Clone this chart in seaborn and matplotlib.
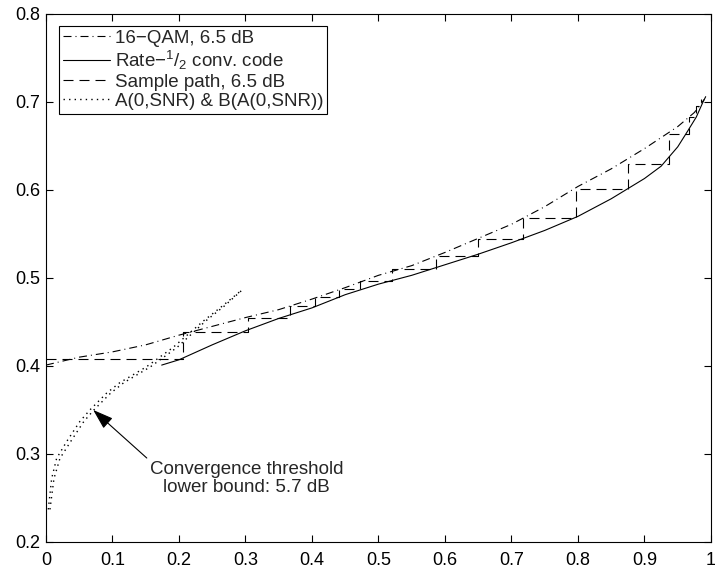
import numpy as np
import pandas as pd
import matplotlib
matplotlib.use('Agg')
import matplotlib.pyplot as plt
import seaborn as sns

# ========================
# DATA
# ========================
# 16-QAM demapper curve, 6.5 dB (dash-dot)
qam_x = [0.0, 0.05, 0.1, 0.15, 0.2, 0.25, 0.3, 0.35, 0.4, 0.45, 0.5, 0.55,
         0.6, 0.65, 0.7, 0.75, 0.8, 0.85, 0.9, 0.95, 0.975, 0.99]
qam_y = [0.401, 0.410, 0.416, 0.424, 0.435, 0.445, 0.455, 0.464, 0.476, 0.489,
         0.503, 0.514, 0.529, 0.545, 0.561, 0.581, 0.604, 0.624, 0.647, 0.672,
         0.688, 0.703]

# rate-1/2 convolutional code curve (solid)
conv_x = [0.174, 0.2, 0.25, 0.3, 0.35, 0.4, 0.45, 0.5, 0.55, 0.6, 0.65, 0.7,
          0.75, 0.8, 0.85, 0.9, 0.925, 0.95, 0.965, 0.978, 0.988, 0.992]
conv_y = [0.401, 0.407, 0.424, 0.440, 0.454, 0.466, 0.481, 0.493, 0.503, 0.515,
          0.527, 0.540, 0.554, 0.570, 0.590, 0.613, 0.627, 0.649, 0.667, 0.683,
          0.700, 0.706]

# sample decoding path, 6.5 dB (dashed staircase)
path_x = [0.0, 0.2065, 0.2065, 0.304, 0.304, 0.367, 0.367, 0.405, 0.405, 0.44,
          0.44, 0.472, 0.472, 0.52, 0.52, 0.586, 0.586, 0.650, 0.650, 0.718,
          0.718, 0.7965, 0.7965, 0.875, 0.875, 0.937, 0.937, 0.9675, 0.9675,
          0.978, 0.978, 0.985, 0.985]
path_y = [0.408, 0.408, 0.439, 0.439, 0.455, 0.455, 0.468, 0.468, 0.478, 0.478,
          0.487, 0.487, 0.4966, 0.4966, 0.5105, 0.5105, 0.525, 0.525, 0.544,
          0.544, 0.568, 0.568, 0.601, 0.601, 0.630, 0.630, 0.664, 0.664, 0.683,
          0.683, 0.695, 0.695, 0.703]

# A(0,SNR) and B(A(0,SNR)) (dotted, two nearly overlapping curves)
a_x = [0.0035, 0.0085, 0.016, 0.031, 0.051, 0.066, 0.091, 0.111, 0.151,
       0.191, 0.2365, 0.265, 0.294]
a_y = [0.237, 0.272, 0.295, 0.314, 0.337, 0.350, 0.369, 0.381, 0.399,
       0.421, 0.451, 0.468, 0.486]
b_x = [0.006, 0.012, 0.021, 0.037, 0.057, 0.072, 0.097, 0.117, 0.157,
       0.197, 0.240, 0.268, 0.296]
b_y = [0.237, 0.272, 0.295, 0.314, 0.337, 0.350, 0.369, 0.381, 0.399,
       0.421, 0.451, 0.468, 0.487]

x_ticks = [0, 0.1, 0.2, 0.3, 0.4, 0.5, 0.6, 0.7, 0.8, 0.9, 1]
x_tick_labels = ['0', '0.1', '0.2', '0.3', '0.4', '0.5', '0.6', '0.7', '0.8', '0.9', '1']
y_ticks = [0.2, 0.3, 0.4, 0.5, 0.6, 0.7, 0.8]
y_tick_labels = ['0.2', '0.3', '0.4', '0.5', '0.6', '0.7', '0.8']

legend_labels = ['16\u2212QAM, 6.5 dB',
                 'Rate\u2212$^{1}$/$_{2}$ conv. code',
                 'Sample path, 6.5 dB',
                 'A(0,SNR) & B(A(0,SNR))']

# ========================
# STYLE
# ========================
sns.set_style('ticks')
plt.rcParams['font.family'] = ['Liberation Sans', 'DejaVu Sans']
plt.rcParams['mathtext.fontset'] = 'custom'
plt.rcParams['mathtext.rm'] = 'Liberation Sans'
plt.rcParams['mathtext.it'] = 'Liberation Sans'
FS = 13
FS_TXT = 13.5

fig = plt.figure(figsize=(7.15, 5.69), dpi=100)
ax = fig.add_axes([0.0643, 0.0475, 0.9301, 0.928])

LW = 0.8
dashdot = (0, (7.2, 3.6, 0.9, 3.6))
dashed = (0, (9, 5.4))
dotted = (0, (1, 3))

sns.lineplot(x=qam_x, y=qam_y, ax=ax, color='black', lw=LW,
             linestyle=dashdot, sort=False, estimator=None)
sns.lineplot(x=conv_x, y=conv_y, ax=ax, color='black', lw=LW,
             linestyle='-', sort=False, estimator=None)
sns.lineplot(x=path_x, y=path_y, ax=ax, color='black', lw=LW,
             linestyle=dashed, sort=False, estimator=None)
sns.lineplot(x=a_x, y=a_y, ax=ax, color='black', lw=1.0,
             linestyle=dotted, sort=False, estimator=None)
sns.lineplot(x=b_x, y=b_y, ax=ax, color='black', lw=1.0,
             linestyle=dotted, sort=False, estimator=None)

lines = ax.get_lines()
handles = [lines[0], lines[1], lines[2], lines[3]]
leg = ax.legend(handles, legend_labels, loc='upper left',
                bbox_to_anchor=(0.0195, 0.977), borderaxespad=0,
                fontsize=FS_TXT, frameon=True, fancybox=False, framealpha=1,
                edgecolor='black', handlelength=2.5, handletextpad=0.3,
                borderpad=0.2, labelspacing=0.1)
leg.get_frame().set_linewidth(LW)

ax.annotate('Convergence threshold\nlower bound: 5.7 dB',
            xy=(0.071, 0.350), xytext=(0.302, 0.272),
            ha='center', va='center', fontsize=FS_TXT, linespacing=1.1,
            arrowprops=dict(arrowstyle='-|>,head_length=0.9,head_width=0.3',
                            color='black', lw=LW, relpos=(0.0, 1.0),
                            shrinkA=0, shrinkB=0, mutation_scale=14))

ax.set_xlim(0, 1)
ax.set_ylim(0.2, 0.8)
ax.set_xticks(x_ticks)
ax.set_xticklabels(x_tick_labels)
ax.set_yticks(y_ticks)
ax.set_yticklabels(y_tick_labels)
ax.tick_params(direction='in', top=True, right=True, length=5, width=LW,
               labelsize=FS, colors='black')
ax.tick_params(axis='x', pad=7)
ax.tick_params(axis='y', pad=4)
for s in ax.spines.values():
    s.set_visible(True)
    s.set_linewidth(LW)
    s.set_color('black')
ax.set_xlabel('')
ax.set_ylabel('')

fig.savefig('out.png', dpi=100)
plt.close(fig)
